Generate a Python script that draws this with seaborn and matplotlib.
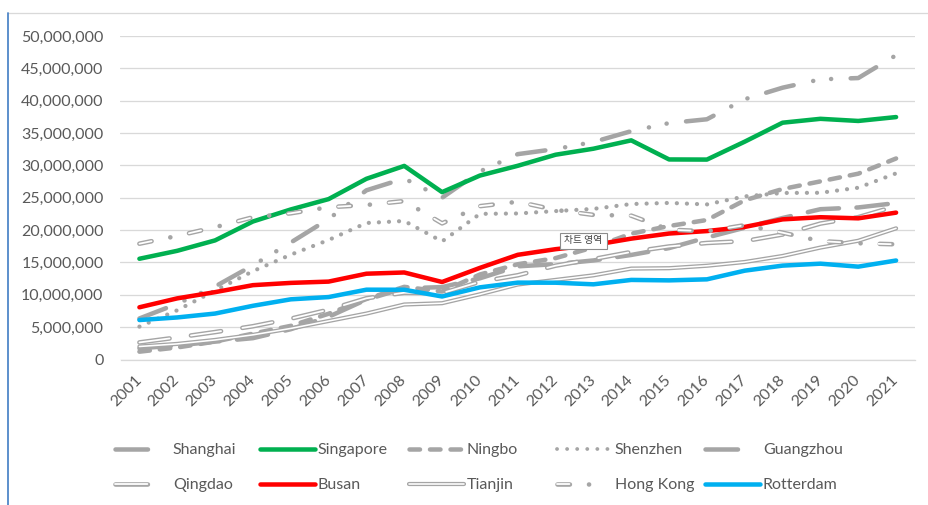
import matplotlib
matplotlib.use('Agg')
import matplotlib.pyplot as plt
from matplotlib.lines import Line2D
from matplotlib.patches import Rectangle
from matplotlib.ticker import FuncFormatter, MultipleLocator
import numpy as np
import seaborn as sns

# ─── Data: container throughput (TEU) ─────────────────────────────────────────

years = [str(y) for y in range(2001, 2022)]

shanghai = [6340000, 8610000, 11280000, 14550000, 18080000, 21710000, 26150000,
            27980000, 25000000, 29070000, 31740000, 32530000, 33620000, 35290000,
            36540000, 37130000, 40230000, 42010000, 43300000, 43500000, 47030000]
singapore = [15570000, 16800000, 18410000, 21330000, 23190000, 24790000, 27930000,
             29920000, 25870000, 28430000, 29940000, 31650000, 32580000, 33870000,
             30920000, 30900000, 33670000, 36600000, 37200000, 36870000, 37470000]
ningbo = [1210000, 1860000, 2770000, 4000000, 5200000, 7070000, 9350000,
          11230000, 10500000, 13140000, 14720000, 15670000, 17330000, 19450000,
          20630000, 21560000, 24610000, 26350000, 27530000, 28720000, 31070000]
shenzhen = [5080000, 7610000, 10650000, 13650000, 16200000, 18470000, 21100000,
            21410000, 18250000, 22510000, 22570000, 22940000, 23280000, 24030000,
            24200000, 23970000, 25210000, 25740000, 25770000, 26550000, 28770000]
guangzhou = [1730000, 2180000, 2760000, 3300000, 4680000, 6600000, 9260000,
             11000000, 11190000, 12550000, 14400000, 14740000, 15310000, 16160000,
             17220000, 18850000, 20370000, 21870000, 23230000, 23500000, 24180000]
qingdao = [2640000, 3410000, 4240000, 5140000, 6310000, 7700000, 9460000,
           10320000, 10260000, 12010000, 13020000, 14500000, 15520000, 16620000,
           17470000, 18010000, 18300000, 19320000, 21010000, 22000000, 23710000]
busan = [8070000, 9450000, 10410000, 11490000, 11840000, 12040000, 13260000,
         13450000, 11980000, 14160000, 16180000, 17050000, 17690000, 18680000,
         19470000, 19850000, 20490000, 21660000, 21990000, 21820000, 22700000]
tianjin = [2010000, 2410000, 3020000, 3810000, 4800000, 5950000, 7100000,
           8500000, 8700000, 10080000, 11590000, 12300000, 13010000, 14050000,
           14110000, 14490000, 15070000, 16000000, 17300000, 18350000, 20270000]
hong_kong = [17900000, 19100000, 20450000, 21980000, 22600000, 23540000, 23880000,
             24490000, 21040000, 23700000, 24380000, 23120000, 22350000, 22230000,
             20070000, 19810000, 20760000, 19600000, 18300000, 17970000, 17800000]
rotterdam = [6100000, 6500000, 7100000, 8300000, 9300000, 9650000, 10790000,
             10780000, 9740000, 11150000, 11880000, 11870000, 11620000, 12300000,
             12230000, 12390000, 13730000, 14510000, 14810000, 14350000, 15300000]

# ─── Styling ──────────────────────────────────────────────────────────────────

W, H, DPI = 929, 505, 100
PT = 72 / DPI            # pixels -> points
GRAY = '#A5A5A5'
TEXT = '#595959'
GRID = '#D9D9D9'
FS = 11.5

sns.set_style('white')
plt.rcParams['font.family'] = ['Lato', 'DejaVu Sans']


def line_style(color, lw_px, dash_px=None):
    """Line kwargs; dash pattern given as displayed pixels (round caps)."""
    kw = dict(color=color, linewidth=lw_px * PT)
    if dash_px is not None:
        # round caps grow each dash by lw, so shrink on / grow off to compensate
        seq = []
        for i, v in enumerate(dash_px):
            raw = v - lw_px if i % 2 == 0 else v + lw_px
            seq.append(max(raw, 0.02 * lw_px) / lw_px)
        kw['linestyle'] = (0, tuple(seq))
    return kw


def round_caps(line):
    line.set_dash_capstyle('round')
    line.set_solid_capstyle('round')
    line.set_dash_joinstyle('round')
    line.set_solid_joinstyle('round')
    return line


# (name, values, layers, legend layers); each layer = (color, lw_px, dashes_px)
series = [
    ('Shanghai', shanghai,
     [(GRAY, 4.5, [33, 15.5, 4.5, 13.5, 4.5, 15])], [(GRAY, 4.5, [37, 200])]),
    ('Singapore', singapore, [('#00B050', 4.5, None)], [('#00B050', 4.5, None)]),
    ('Ningbo', ningbo,
     [(GRAY, 4.5, [15, 5.5])], [(GRAY, 4.5, [15, 5.5])]),
    ('Shenzhen', shenzhen,
     [(GRAY, 4.2, [4.2, 5.8])], [(GRAY, 3.8, [3.8, 6.2])]),
    ('Guangzhou', guangzhou,
     [(GRAY, 4.5, [36, 13])], [(GRAY, 4.5, [37, 200])]),
    ('Qingdao', qingdao,
     [(GRAY, 4.6, [35, 17]), ('white', 1.8, [32.2, 19.8])],
     [(GRAY, 4.6, [37, 200]), ('white', 1.8, [34.2, 200])]),
    ('Busan', busan, [('#FF0000', 4.5, None)], [('#FF0000', 4.5, None)]),
    ('Tianjin', tianjin,
     [(GRAY, 4.2, None), ('white', 1.6, None)],
     [(GRAY, 4.2, None), ('white', 1.6, None)]),
    ('Hong Kong', hong_kong,
     [(GRAY, 4.6, [17, 14.5, 4.6, 14.5]), ('white', 1.8, [14.2, 36.4])],
     [(GRAY, 4.6, [17, 14.5, 4.6, 300]), ('white', 1.8, [14.2, 300])]),
    ('Rotterdam', rotterdam, [('#00B0F0', 4.5, None)], [('#00B0F0', 4.5, None)]),
]

# ─── Figure ───────────────────────────────────────────────────────────────────

fig = plt.figure(figsize=(W / DPI, H / DPI), dpi=DPI)
fig.patch.set_facecolor('white')
ax = fig.add_axes([120.5 / W, 1 - 359.5 / H, (915 - 120.5) / W, (359.5 - 36) / H])

handles = {}
for name, vals, layers, leg_layers in series:
    for color, lw, dashes in layers:
        sns.lineplot(x=years, y=vals, ax=ax, errorbar=None, legend=False,
                     **line_style(color, lw, dashes))
        round_caps(ax.lines[-1])
    proxies = tuple(round_caps(Line2D([], [], **line_style(c, lw, d)))
                    for c, lw, d in leg_layers)
    handles[name] = proxies if len(proxies) > 1 else proxies[0]

ax.set_xlim(-0.5, len(years) - 0.5)
ax.set_ylim(0, 50000000)
ax.yaxis.set_major_locator(MultipleLocator(5000000))
ax.yaxis.set_major_formatter(FuncFormatter(lambda v, _: f'{v:,.0f}'))
ax.set_xlabel('')
ax.set_ylabel('')

ax.set_axisbelow(True)
ax.yaxis.grid(True, color=GRID, linewidth=1.3 * PT)
ax.xaxis.grid(False)
for side in ['left', 'right', 'top']:
    ax.spines[side].set_visible(False)
ax.spines['bottom'].set_color(GRID)
ax.spines['bottom'].set_linewidth(1.3 * PT)

ax.tick_params(axis='y', length=0, pad=17 * PT, labelsize=FS, labelcolor=TEXT)
ax.tick_params(axis='x', which='major', length=0, pad=18.5 * PT,
               labelsize=FS, labelcolor=TEXT)
ax.set_xticks(np.arange(-0.5, len(years)), minor=True)
ax.tick_params(axis='x', which='minor', length=4 * PT, width=1.3 * PT,
               color=GRID, direction='out')
for lab in ax.get_xticklabels():
    lab.set_rotation(45)
    lab.set_ha('right')
    lab.set_va('center')
    lab.set_rotation_mode('anchor')

# ─── Legend: 5 columns x 2 rows, Excel-like fixed column grid ────────────────

rows = [['Shanghai', 'Singapore', 'Ningbo', 'Shenzhen', 'Guangzhou'],
        ['Qingdao', 'Busan', 'Tianjin', 'Hong Kong', 'Rotterdam']]
col_x = [115, 260, 409, 557, 705]
for i, x0 in enumerate(col_x):
    names = [rows[0][i], rows[1][i]]
    fig.legend([handles[n] for n in names], names,
               loc='upper left', bbox_to_anchor=(x0 / W, 1 - 443 / H),
               frameon=False, fontsize=FS, borderpad=0, borderaxespad=0,
               handlelength=55 / 16, handletextpad=3 / 16,
               labelspacing=1.3, labelcolor=TEXT)

# Excel hover tooltip and chart-area frame seen in the screenshot
fig.patches.append(Rectangle((560 / W, 1 - 248.5 / H), 47 / W, 15.5 / H,
                             transform=fig.transFigure, facecolor='white',
                             edgecolor='#8C8C8C', linewidth=0.8, zorder=10))
fig.text(583.5 / W, 1 - 240.5 / H, '차트 영역', fontsize=7,
         family=['Noto Sans CJK KR', 'DejaVu Sans'], color='#404040',
         ha='center', va='center', zorder=11)
fig.add_artist(Line2D([8.3 / W, 1], [1 - 13.3 / H, 1 - 13.3 / H],
                      transform=fig.transFigure, color=GRID,
                      linewidth=1.3 * PT))
fig.add_artist(Line2D([8.3 / W, 8.3 / W], [0, 1 - 13.3 / H],
                      transform=fig.transFigure, color='#4F86C8',
                      linewidth=1.8 * PT))

fig.savefig('out.png', dpi=DPI, facecolor='white')
